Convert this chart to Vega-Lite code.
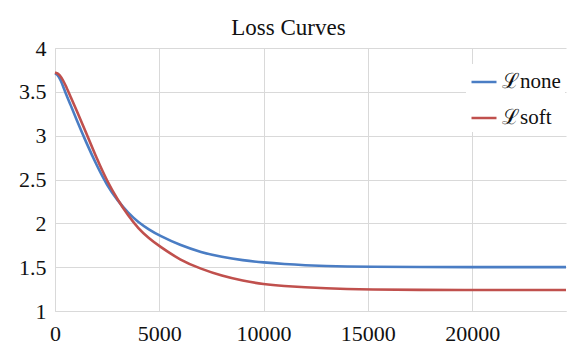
{
  "$schema": "https://vega.github.io/schema/vega-lite/v6.json",
  "width": 511,
  "height": 263,
  "autosize": {"type": "none"},
  "padding": {"left": 55, "top": 48, "right": 22, "bottom": 53},
  "background": "white",
  "title": {"text": "Loss Curves", "font": "Liberation Serif", "fontSize": 23, "fontWeight": "normal", "color": "#111", "dx": -22, "dy": 7, "offset": 4},
  "config": {
    "view": {"stroke": null}
  },
  "data": {"values": [
    {"step": 0, "loss": 3.71, "series": "ℒnone"},
    {"step": 100, "loss": 3.70, "series": "ℒnone"},
    {"step": 250, "loss": 3.65, "series": "ℒnone"},
    {"step": 500, "loss": 3.49, "series": "ℒnone"},
    {"step": 750, "loss": 3.35, "series": "ℒnone"},
    {"step": 1000, "loss": 3.20, "series": "ℒnone"},
    {"step": 1500, "loss": 2.92, "series": "ℒnone"},
    {"step": 2000, "loss": 2.66, "series": "ℒnone"},
    {"step": 2500, "loss": 2.43, "series": "ℒnone"},
    {"step": 3000, "loss": 2.26, "series": "ℒnone"},
    {"step": 3500, "loss": 2.12, "series": "ℒnone"},
    {"step": 4000, "loss": 2.01, "series": "ℒnone"},
    {"step": 4500, "loss": 1.93, "series": "ℒnone"},
    {"step": 5000, "loss": 1.86, "series": "ℒnone"},
    {"step": 6000, "loss": 1.75, "series": "ℒnone"},
    {"step": 7000, "loss": 1.67, "series": "ℒnone"},
    {"step": 8000, "loss": 1.615, "series": "ℒnone"},
    {"step": 9000, "loss": 1.578, "series": "ℒnone"},
    {"step": 10000, "loss": 1.553, "series": "ℒnone"},
    {"step": 11000, "loss": 1.535, "series": "ℒnone"},
    {"step": 12000, "loss": 1.522, "series": "ℒnone"},
    {"step": 13000, "loss": 1.513, "series": "ℒnone"},
    {"step": 14000, "loss": 1.508, "series": "ℒnone"},
    {"step": 15000, "loss": 1.505, "series": "ℒnone"},
    {"step": 17500, "loss": 1.502, "series": "ℒnone"},
    {"step": 20000, "loss": 1.50, "series": "ℒnone"},
    {"step": 22500, "loss": 1.50, "series": "ℒnone"},
    {"step": 24500, "loss": 1.50, "series": "ℒnone"},
    {"step": 0, "loss": 3.72, "series": "ℒsoft"},
    {"step": 150, "loss": 3.71, "series": "ℒsoft"},
    {"step": 300, "loss": 3.67, "series": "ℒsoft"},
    {"step": 500, "loss": 3.58, "series": "ℒsoft"},
    {"step": 750, "loss": 3.44, "series": "ℒsoft"},
    {"step": 1000, "loss": 3.31, "series": "ℒsoft"},
    {"step": 1500, "loss": 3.03, "series": "ℒsoft"},
    {"step": 2000, "loss": 2.74, "series": "ℒsoft"},
    {"step": 2500, "loss": 2.48, "series": "ℒsoft"},
    {"step": 3000, "loss": 2.27, "series": "ℒsoft"},
    {"step": 3500, "loss": 2.09, "series": "ℒsoft"},
    {"step": 4000, "loss": 1.94, "series": "ℒsoft"},
    {"step": 4500, "loss": 1.83, "series": "ℒsoft"},
    {"step": 5000, "loss": 1.74, "series": "ℒsoft"},
    {"step": 6000, "loss": 1.58, "series": "ℒsoft"},
    {"step": 7000, "loss": 1.48, "series": "ℒsoft"},
    {"step": 8000, "loss": 1.40, "series": "ℒsoft"},
    {"step": 9000, "loss": 1.345, "series": "ℒsoft"},
    {"step": 10000, "loss": 1.305, "series": "ℒsoft"},
    {"step": 11000, "loss": 1.285, "series": "ℒsoft"},
    {"step": 12000, "loss": 1.27, "series": "ℒsoft"},
    {"step": 13000, "loss": 1.258, "series": "ℒsoft"},
    {"step": 14000, "loss": 1.25, "series": "ℒsoft"},
    {"step": 15000, "loss": 1.245, "series": "ℒsoft"},
    {"step": 17500, "loss": 1.241, "series": "ℒsoft"},
    {"step": 20000, "loss": 1.24, "series": "ℒsoft"},
    {"step": 22500, "loss": 1.24, "series": "ℒsoft"},
    {"step": 24500, "loss": 1.24, "series": "ℒsoft"}
  ]},
  "mark": {"type": "line", "interpolate": "basis", "strokeWidth": 2.6},
  "encoding": {
    "x": {
      "field": "step", "type": "quantitative",
      "scale": {"domain": [0, 24500], "nice": false, "zero": false},
      "axis": {"title": null, "values": [0, 5000, 10000, 15000, 20000], "format": "d",
        "labelFont": "'Liberation Serif', 'DejaVu Serif', serif", "labelFontSize": 22, "labelColor": "#111",
        "labelPadding": 12, "ticks": false, "domainColor": "#d9d9d9", "gridColor": "#d9d9d9",
        "gridWidth": 1, "labelFlush": false}
    },
    "y": {
      "field": "loss", "type": "quantitative",
      "scale": {"domain": [1, 4], "nice": false, "zero": false},
      "axis": {"title": null, "values": [1, 1.5, 2, 2.5, 3, 3.5, 4], "format": "~g",
        "labelFont": "'Liberation Serif', 'DejaVu Serif', serif", "labelFontSize": 22, "labelColor": "#111",
        "labelPadding": 9, "ticks": false, "domainColor": "#d9d9d9", "gridColor": "#d9d9d9",
        "gridWidth": 1, "labelFlush": false}
    },
    "color": {
      "field": "series", "type": "nominal",
      "scale": {"domain": ["ℒnone", "ℒsoft"], "range": ["#4A7DC4", "#C0504D"]},
      "legend": {"title": null, "orient": "none", "legendX": 411, "legendY": 16,
        "symbolType": "stroke", "symbolSize": 625, "symbolStrokeWidth": 2.5,
        "labelFont": "'Liberation Serif', 'DejaVu Serif', serif", "labelFontSize": 21, "labelColor": "#111",
        "rowPadding": 12, "fillColor": "white", "padding": 4}
    }
  }
}
